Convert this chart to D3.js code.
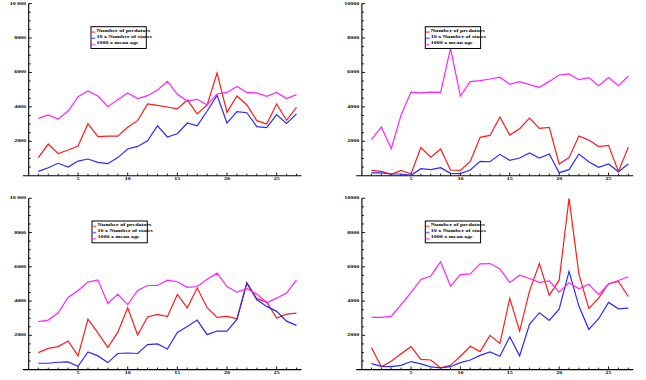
<!DOCTYPE html>
<html>
<head>
<meta charset="utf-8">
<script src="https://cdn.jsdelivr.net/npm/d3@7"></script>
<style>
  html, body { margin: 0; padding: 0; background: #fff; }
  svg { display: block; }
  text { font-family: "Liberation Serif", "DejaVu Serif", serif; fill: #000; font-weight: bold; }
</style>
</head>
<body>
<svg id="chart" width="646" height="380"></svg>
<script>
// ---- data ----
const steps = [1,2,3,4,5,6,7,8,9,10,11,12,13,14,15,16,17,18,19,20,21,22,23,24,25,26,27];
const seriesNames = ["Number of predators", "10 x Number of states", "1000 x mean age"];
const seriesColors = ["#ff1a1a", "#2a2aff", "#ff22ff"];
const xTickValues = [5, 10, 15, 20, 25];
const yTickValues = [2000, 4000, 6000, 8000, 10000];

const p1Red = [1050,1840,1280,1490,1720,3020,2270,2300,2300,2810,3200,4170,4090,3990,3880,4400,3590,4110,5970,3680,4630,4110,3200,3000,4170,3220,3970];
const p1Blue = [250,465,720,500,850,970,775,700,1050,1550,1700,2030,2900,2250,2440,3060,2900,3760,4670,3060,3720,3660,2850,2790,3550,3040,3590];
const p1Magenta = [3330,3530,3290,3760,4590,4920,4630,4010,4420,4810,4480,4650,4980,5480,4730,4340,4440,4110,4750,4840,5190,4840,4810,4610,4840,4480,4710];

const p2Red = [310,250,80,310,100,1630,1070,1550,330,310,830,2230,2340,3410,2360,2730,3350,2750,2810,680,1050,2310,2070,1690,1760,250,1650];
const p2Blue = [160,160,100,100,20,410,350,465,135,120,330,830,810,1240,890,1030,1320,1030,1260,175,350,1260,810,485,680,230,680];
const p2Magenta = [2090,2830,1570,3530,4860,4810,4860,4840,7400,4630,5470,5520,5620,5720,5310,5470,5290,5140,5480,5850,5910,5580,5700,5230,5700,5230,5780];

const p3Red = [990,1240,1340,1670,800,2950,2140,1300,2170,3610,2020,3070,3220,3090,4390,3610,4760,3610,3050,3110,2970,5090,4140,3940,3010,3240,3300];
const p3Blue = [370,370,430,450,190,1030,800,410,940,970,940,1460,1500,1200,2170,2520,2890,2040,2250,2250,2930,5030,4080,3690,3400,2830,2580];
const p3Magenta = [2800,2890,3320,4210,4620,5110,5240,3860,4390,3790,4620,4910,4910,5220,5130,4800,4850,5280,5630,4850,4520,4720,4410,3900,4170,4470,5240];

const p4Red = [1280,160,490,930,1340,600,560,100,250,780,1360,1050,2000,1530,4160,2250,4600,6190,4330,5220,10000,5570,3570,4170,5010,5150,4270];
const p4Blue = [350,190,170,250,470,330,160,100,170,410,560,830,1030,780,1920,800,2640,3320,2870,3530,5730,3710,2350,2970,3920,3550,3590];
const p4Magenta = [3050,3050,3110,3790,4500,5260,5460,6290,4870,5550,5590,6170,6190,5880,5090,5510,5320,5090,5180,4520,5070,4720,4990,4370,4990,5200,5420];

// ---- layout (positions only) ----
const panels = [
  { series: [p1Red, p1Blue, p1Magenta], xr: [28.4, 296.5], yr: [175.7, 3.6], legend: [91, 26.7], topLabel: "10 000" },
  { series: [p2Red, p2Blue, p2Magenta], xr: [361.6, 628.3], yr: [175.7, 3.6], legend: [425.3, 26.7], topLabel: "10000" },
  { series: [p3Red, p3Blue, p3Magenta], xr: [28.4, 296.5], yr: [369.6, 198.3], legend: [92, 221], topLabel: "10 000" },
  { series: [p4Red, p4Blue, p4Magenta], xr: [361.6, 628.3], yr: [369.6, 198.3], legend: [425.3, 221], topLabel: "10000" }
];

const svg = d3.select("#chart");
const FS = 6.0;      // font size
const SY = 0.55;     // vertical squash of the small labels

function label(g, x, y, str, anchor) {
  g.append("text")
    .attr("transform", `translate(${x},${y}) scale(1,${SY})`)
    .attr("text-anchor", anchor)
    .attr("dominant-baseline", "central")
    .attr("font-size", FS)
    .text(str);
}

panels.forEach(p => {
  const x = d3.scaleLinear().domain([0, 27]).range(p.xr);
  const y = d3.scaleLinear().domain([0, 10000]).range(p.yr);
  const g = svg.append("g");

  // x axis line
  const y0 = y(0);
  g.append("line")
    .attr("x1", x(-0.55)).attr("x2", x(27.5))
    .attr("y1", y0).attr("y2", y0)
    .attr("stroke", "#000").attr("stroke-width", 1.1);
  d3.range(1, 28).forEach(v => {
    const major = v % 5 === 0;
    g.append("line")
      .attr("x1", x(v)).attr("x2", x(v))
      .attr("y1", y0).attr("y2", y0 - (major ? 3.2 : 2))
      .attr("stroke", "#000").attr("stroke-width", 0.9);
  });
  xTickValues.forEach(v => label(g, x(v), y0 + 3.6, String(v), "middle"));

  // y axis line
  const xa = x(0) + 0.3;
  g.append("line")
    .attr("x1", xa).attr("x2", xa)
    .attr("y1", y(10000)).attr("y2", y0)
    .attr("stroke", "#000").attr("stroke-width", 1.1);
  d3.range(500, 10001, 500).forEach(v => {
    const major = v % 2000 === 0;
    g.append("line")
      .attr("x1", xa).attr("x2", xa + (major ? 3.2 : 2))
      .attr("y1", y(v)).attr("y2", y(v))
      .attr("stroke", "#000").attr("stroke-width", 0.9);
  });
  yTickValues.forEach(v => {
    const s = v === 10000 ? p.topLabel : String(v);
    label(g, xa - 2.6, y(v), s, "end");
  });

  // series lines
  const line = d3.line().x((d, i) => x(steps[i])).y(d => y(d));
  p.series.forEach((s, k) => {
    g.append("path")
      .datum(s)
      .attr("d", line)
      .attr("fill", "none")
      .attr("stroke", seriesColors[k])
      .attr("stroke-width", 1.2)
      .attr("stroke-linejoin", "miter");
  });

  // legend
  const [lx, ly] = p.legend;
  const lg = g.append("g");
  lg.append("rect")
    .attr("x", lx).attr("y", ly)
    .attr("width", 55.3).attr("height", 21.8)
    .attr("fill", "#fff").attr("stroke", "#000").attr("stroke-width", 1);
  seriesNames.forEach((n, k) => {
    const ty = ly + 4 + k * 6.2;
    lg.append("line")
      .attr("x1", lx + 0.8).attr("x2", lx + 4.2)
      .attr("y1", ty + 1.4).attr("y2", ty + 1.4)
      .attr("stroke", seriesColors[k]).attr("stroke-width", 1.6)
      .attr("stroke-opacity", 0.65);
    label(lg, lx + 5.5, ty, n, "start");
  });
});
</script>
</body>
</html>
